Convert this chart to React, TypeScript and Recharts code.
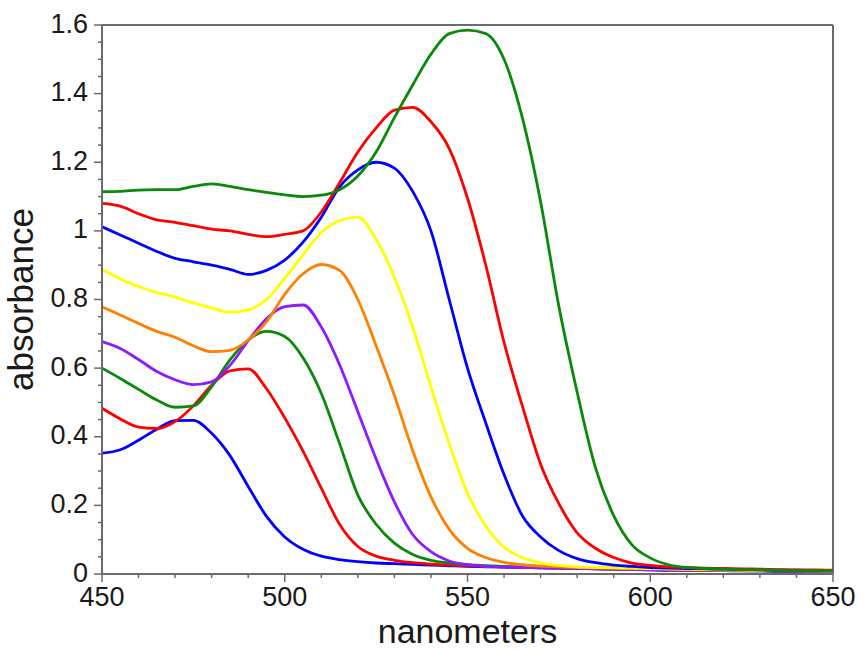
import React from 'react';
import { LineChart, Line, XAxis, YAxis, Label, ReferenceLine } from 'recharts';

// Wavelength grid (nm)
const wavelengths = [
  450, 455, 460, 465, 470, 475, 480, 485, 490, 495, 500, 505, 510, 515, 520, 525, 530, 535, 540, 545,
  550, 555, 560, 565, 570, 575, 580, 585, 590, 595, 600, 605, 610, 615, 620, 625, 630, 635, 640, 645, 650,
];

// Absorbance spectra
const blue1 = [
  0.352, 0.362, 0.39, 0.422, 0.447, 0.448, 0.41, 0.345, 0.255, 0.168, 0.108, 0.072, 0.052, 0.042, 0.036, 0.032,
  0.03, 0.028, 0.026, 0.024, 0.022, 0.021, 0.02, 0.019, 0.018, 0.017, 0.016, 0.015, 0.014, 0.013, 0.012, 0.011,
  0.011, 0.01, 0.01, 0.009, 0.009, 0.008, 0.008, 0.007, 0.007,
];
const red1 = [
  0.483, 0.452, 0.428, 0.424, 0.444, 0.49, 0.55, 0.592, 0.598, 0.54, 0.455, 0.358, 0.25, 0.145, 0.08, 0.052,
  0.04, 0.033, 0.029, 0.026, 0.024, 0.022, 0.021, 0.02, 0.019, 0.018, 0.017, 0.016, 0.015, 0.014, 0.013, 0.012,
  0.012, 0.011, 0.011, 0.01, 0.01, 0.009, 0.009, 0.008, 0.008,
];
const green1 = [
  0.6, 0.57, 0.538, 0.507, 0.486, 0.49, 0.546, 0.624, 0.682, 0.707, 0.692, 0.63, 0.526, 0.38, 0.23, 0.145,
  0.09, 0.057, 0.04, 0.032, 0.027, 0.024, 0.022, 0.02, 0.019, 0.018, 0.017, 0.016, 0.015, 0.014, 0.013, 0.012,
  0.012, 0.011, 0.011, 0.01, 0.01, 0.009, 0.009, 0.008, 0.008,
];
const purple = [
  0.677, 0.657, 0.625, 0.59, 0.566, 0.552, 0.56, 0.608, 0.68, 0.744, 0.779, 0.784, 0.72, 0.61, 0.473, 0.335,
  0.21, 0.115, 0.065, 0.038, 0.027, 0.022, 0.02, 0.019, 0.018, 0.017, 0.016, 0.015, 0.014, 0.013, 0.012, 0.012,
  0.011, 0.011, 0.01, 0.01, 0.009, 0.009, 0.008, 0.008, 0.007,
];
const orange = [
  0.779, 0.755, 0.73, 0.707, 0.69, 0.665, 0.648, 0.652, 0.682, 0.735, 0.815, 0.875, 0.902, 0.885, 0.8, 0.665,
  0.52, 0.36, 0.225, 0.13, 0.075, 0.048, 0.034, 0.027, 0.023, 0.021, 0.019, 0.018, 0.017, 0.016, 0.015, 0.014,
  0.013, 0.012, 0.012, 0.011, 0.011, 0.01, 0.01, 0.009, 0.009,
];
const yellow = [
  0.888, 0.86, 0.838, 0.82, 0.807, 0.79, 0.775, 0.763, 0.77, 0.8, 0.862, 0.93, 0.995, 1.03, 1.04, 0.975,
  0.865, 0.72, 0.545, 0.38, 0.235, 0.14, 0.078, 0.048, 0.032, 0.025, 0.021, 0.019, 0.018, 0.017, 0.016, 0.015,
  0.014, 0.013, 0.012, 0.012, 0.011, 0.011, 0.01, 0.01, 0.009,
];
const blue2 = [
  1.012, 0.988, 0.964, 0.94, 0.92, 0.91, 0.9, 0.888, 0.873, 0.885, 0.915, 0.967, 1.04, 1.128, 1.178, 1.2,
  1.183, 1.115, 1.0, 0.8, 0.6, 0.44, 0.29, 0.17, 0.108, 0.068, 0.045, 0.033, 0.026, 0.022, 0.019, 0.017,
  0.016, 0.015, 0.014, 0.013, 0.012, 0.011, 0.011, 0.01, 0.01,
];
const red2 = [
  1.08, 1.072, 1.05, 1.032, 1.025, 1.015, 1.005, 1.0, 0.99, 0.983, 0.99, 1.0, 1.055, 1.14, 1.23, 1.3,
  1.352, 1.36, 1.318, 1.24, 1.095, 0.9, 0.675, 0.49, 0.32, 0.205, 0.12, 0.075, 0.048, 0.032, 0.025, 0.021,
  0.019, 0.017, 0.016, 0.015, 0.014, 0.013, 0.012, 0.012, 0.011,
];
const green2 = [
  1.114, 1.115, 1.119, 1.12, 1.12, 1.13, 1.137, 1.13, 1.12, 1.112, 1.105, 1.1, 1.104, 1.12, 1.16, 1.23,
  1.33, 1.425, 1.515, 1.575, 1.585, 1.575, 1.5, 1.33, 1.085, 0.78, 0.53, 0.31, 0.17, 0.085, 0.047, 0.027,
  0.019, 0.016, 0.014, 0.013, 0.012, 0.011, 0.01, 0.01, 0.009,
];

// Axis ticks (every minor tick; labels on majors)
const xTicks = [450, 460, 470, 480, 490, 500, 510, 520, 530, 540, 550, 560, 570, 580, 590, 600, 610, 620, 630, 640, 650];
const xMajorTicks = [450, 500, 550, 600, 650];
const yTicks = [
  0, 0.05, 0.1, 0.15, 0.2, 0.25, 0.3, 0.35, 0.4, 0.45, 0.5, 0.55, 0.6, 0.65, 0.7, 0.75, 0.8, 0.85, 0.9, 0.95,
  1, 1.05, 1.1, 1.15, 1.2, 1.25, 1.3, 1.35, 1.4, 1.45, 1.5, 1.55, 1.6,
];
const yMajorTicks = [0, 0.2, 0.4, 0.6, 0.8, 1, 1.2, 1.4, 1.6];
const xMax = 650;
const yMax = 1.6;

const series = [
  { key: 'blue1', color: '#0000ff', values: blue1 },
  { key: 'red1', color: '#ff0000', values: red1 },
  { key: 'green1', color: '#0a8a0a', values: green1 },
  { key: 'purple', color: '#8c1cff', values: purple },
  { key: 'orange', color: '#ff8000', values: orange },
  { key: 'yellow', color: '#ffff00', values: yellow },
  { key: 'blue2', color: '#0000ff', values: blue2 },
  { key: 'red2', color: '#ff0000', values: red2 },
  { key: 'green2', color: '#0a8a0a', values: green2 },
];

const data = wavelengths.map((nm, i) => {
  const row: Record<string, number> = { nm };
  series.forEach((s) => {
    row[s.key] = s.values[i];
  });
  return row;
});

const FONT = '"Liberation Sans", Arial, Helvetica, sans-serif';
const AXIS = '#6b6b6b';
const TEXT = '#1a1a1a';

const XTick = (props: any) => {
  const { x, y, payload } = props;
  const v = payload.value;
  const major = xMajorTicks.includes(v);
  return (
    <g>
      <line x1={x} y1={y} x2={x} y2={y + (major ? 8 : 4)} stroke={AXIS} strokeWidth={1.5} />
      {major && (
        <text x={x} y={y + 31.5} textAnchor="middle" fontSize={27} fontFamily={FONT} fill={TEXT}>
          {v}
        </text>
      )}
    </g>
  );
};

const YTick = (props: any) => {
  const { x, y, payload } = props;
  const v = payload.value;
  const major = yMajorTicks.some((m) => Math.abs(m - v) < 1e-6);
  return (
    <g>
      <line x1={x} y1={y} x2={x - (major ? 8 : 4)} y2={y} stroke={AXIS} strokeWidth={1.5} />
      {major && (
        <text x={x - 14} y={y + 7.5} textAnchor="end" fontSize={27} fontFamily={FONT} fill={TEXT}>
          {String(Math.round(v * 10) / 10)}
        </text>
      )}
    </g>
  );
};

export default function App() {
  return (
    <div style={{ position: 'absolute', left: 0, top: 0, background: '#fff' }}>
      <LineChart width={863} height={650} data={data} margin={{ top: 25, right: 30, bottom: 0, left: 0 }}>
        <XAxis
          dataKey="nm"
          type="number"
          domain={[450, xMax]}
          ticks={xTicks}
          interval={0}
          height={76}
          tickSize={0}
          tickMargin={0}
          tickLine={false}
          tick={<XTick />}
          axisLine={{ stroke: AXIS, strokeWidth: 2 }}
        >
          <Label
            content={(p: any) => {
              const vb = p.viewBox;
              return (
                <text x={vb.x + vb.width / 2} y={vb.y + 68.5} textAnchor="middle" fontSize={34} fontFamily={FONT} fill={TEXT}>
                  nanometers
                </text>
              );
            }}
          />
        </XAxis>
        <YAxis
          type="number"
          domain={[0, yMax]}
          ticks={yTicks}
          interval={0}
          width={102}
          tickSize={0}
          tickMargin={0}
          tickLine={false}
          tick={<YTick />}
          axisLine={{ stroke: AXIS, strokeWidth: 2 }}
        >
          <Label
            content={(p: any) => {
              const vb = p.viewBox;
              const cx = vb.x + 33;
              const cy = vb.y + vb.height / 2;
              return (
                <text
                  x={cx}
                  y={cy}
                  textAnchor="middle"
                  fontSize={35}
                  fontFamily={FONT}
                  fill={TEXT}
                  transform={`rotate(-90, ${cx}, ${cy})`}
                >
                  absorbance
                </text>
              );
            }}
          />
        </YAxis>
        <ReferenceLine y={yMax} stroke={AXIS} strokeWidth={2} />
        <ReferenceLine x={xMax} stroke={AXIS} strokeWidth={2} />
        {series.map((s) => (
          <Line
            key={s.key}
            dataKey={s.key}
            type="monotone"
            stroke={s.color}
            strokeWidth={2.8}
            dot={false}
            activeDot={false}
            isAnimationActive={false}
          />
        ))}
      </LineChart>
    </div>
  );
}
